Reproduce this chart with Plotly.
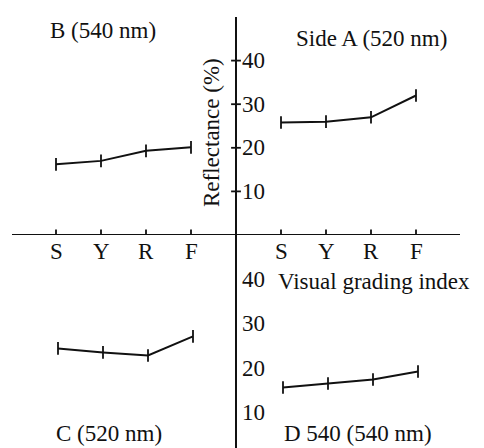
import plotly.graph_objects as go

# ---------------- data ----------------
categories = ["S", "Y", "R", "F"]
pos_left = [1, 2, 3, 4]
pos_right = [6, 7, 8, 9]
side_a_520 = [25.8, 26.0, 27.0, 32.0]      # upper right
b_540 = [16.2, 17.0, 19.3, 20.1]           # upper left
c_520 = [24.5, 23.6, 22.9, 27.2]           # lower left
d_540 = [15.7, 16.6, 17.5, 19.3]           # lower right
y_ticks = [10, 20, 30, 40]

# page body has an 8px margin; size the figure to fit the 484x448 window
OFF = 8
W, H = 484 - OFF, 448 - OFF
FONT = "Liberation Serif"
FS = 23
BLACK = "#111111"


def px(x):
    return (x - OFF) / W


def py(y):
    return 1 - (y - OFF) / H


fig = go.Figure()

line_style = dict(color=BLACK, width=2)
mk = dict(symbol="line-ns", size=9, line=dict(color=BLACK, width=1.8), color=BLACK)

# upper panel series
for xs, ys in [(pos_left, b_540), (pos_right, side_a_520)]:
    fig.add_trace(go.Scatter(x=xs, y=ys, mode="lines+markers", line=line_style,
                             marker=mk, xaxis="x", yaxis="y", showlegend=False,
                             hoverinfo="skip"))
# lower panel series
for xs, ys in [(pos_left, c_520), (pos_right, d_540)]:
    fig.add_trace(go.Scatter(x=xs, y=ys, mode="lines+markers", line=line_style,
                             marker=mk, xaxis="x2", yaxis="y2", showlegend=False,
                             hoverinfo="skip"))

# tick marks on horizontal axis
fig.add_trace(go.Scatter(x=pos_left + pos_right, y=[0] * 8, mode="markers",
                         marker=dict(symbol="line-ns", size=8,
                                     line=dict(color=BLACK, width=1.8)),
                         xaxis="x", yaxis="y", showlegend=False, hoverinfo="skip"))
# tick marks on vertical axis (upper & lower)
fig.add_trace(go.Scatter(x=[5] * 4, y=y_ticks, mode="markers",
                         marker=dict(symbol="line-ew", size=7,
                                     line=dict(color=BLACK, width=1.8)),
                         xaxis="x", yaxis="y", showlegend=False, hoverinfo="skip"))
fig.add_trace(go.Scatter(x=[5] * 4, y=y_ticks, mode="markers",
                         marker=dict(symbol="line-ew", size=7,
                                     line=dict(color=BLACK, width=1.8)),
                         xaxis="x", yaxis="y2", showlegend=False, hoverinfo="skip"))

shapes = [
    # horizontal axis
    dict(type="line", xref="paper", yref="y", x0=px(12), x1=px(460), y0=0, y1=0,
         line=dict(color=BLACK, width=2)),
    # vertical axis
    dict(type="line", xref="x", yref="paper", x0=5, x1=5, y0=0, y1=py(17),
         line=dict(color=BLACK, width=2)),
]

ann = []
font = dict(family=FONT, size=FS, color=BLACK)
# y tick labels
for t in y_ticks:
    ann.append(dict(x=5, y=t, xref="x", yref="y", text=str(t), showarrow=False,
                    xanchor="left", yanchor="middle", xshift=4, font=font))
    ann.append(dict(x=5, y=t, xref="x", yref="y2", text=str(t), showarrow=False,
                    xanchor="left", yanchor="middle", xshift=4, font=font))
# x category labels
for xs in (pos_left, pos_right):
    for x, c in zip(xs, categories):
        ann.append(dict(x=x, y=0, xref="x", yref="y", text=c, showarrow=False,
                        xanchor="center", yanchor="top", yshift=-2, font=font))


def label(x, y, text, xanchor="center", **kw):
    return dict(x=px(x), y=py(y), xref="paper", yref="paper", text=text,
                showarrow=False, xanchor=xanchor, yanchor="middle", borderpad=0,
                font=font, **kw)


ann += [
    label(103, 31, "B (540 nm)"),
    label(371, 39, "Side A (520 nm)"),
    label(109, 433, "C (520 nm)"),
    label(358, 433, "D 540 (540 nm)"),
    label(277, 281, "Visual grading index", xanchor="left"),
    label(211, 133, "Reflectance (%)", textangle=-90),
]

ax_hidden = dict(visible=False, showgrid=False, zeroline=False)
fig.update_layout(
    width=W, height=H,
    margin=dict(l=0, r=0, t=0, b=0),
    paper_bgcolor="white", plot_bgcolor="white",
    xaxis=dict(domain=[px(11), px(461)], range=[0, 10], anchor="y", **ax_hidden),
    yaxis=dict(domain=[py(235), py(17)], range=[0, 50], anchor="x", **ax_hidden),
    xaxis2=dict(domain=[px(13), px(463)], range=[0, 10], anchor="y2", **ax_hidden),
    yaxis2=dict(domain=[0, py(235)], range=[2.1, 50], anchor="x2", **ax_hidden),
    shapes=shapes,
    annotations=ann,
)

fig.write_html("out.html")
